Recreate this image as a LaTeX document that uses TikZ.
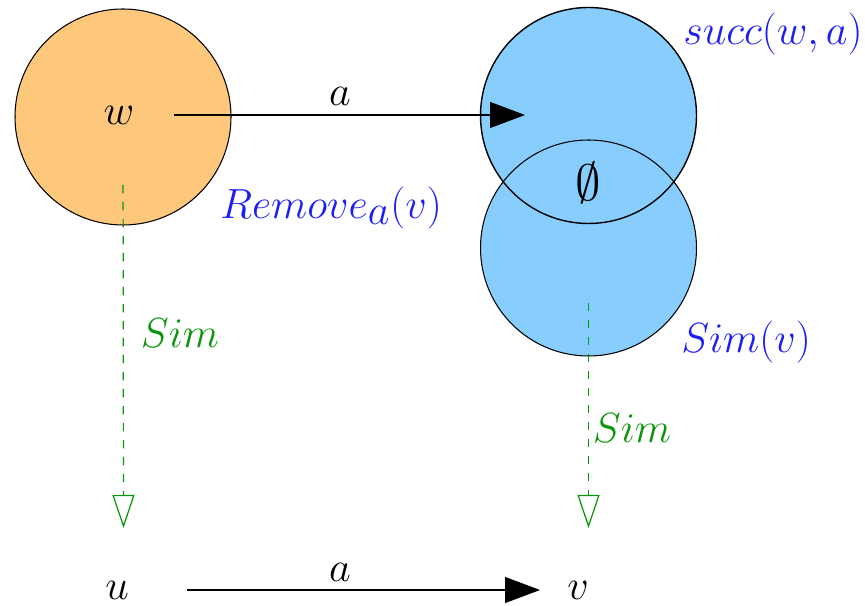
\RequirePackage{fix-cm}
\documentclass[tikz,border=0pt]{standalone}
\usepackage{xcolor}
\usepackage{tikz}
\usepackage{amsmath}
\usetikzlibrary{arrows.meta}
\definecolor{wfill}{RGB}{254,200,124}
\definecolor{setfill}{RGB}{135,206,255}
\definecolor{setblue}{RGB}{30,30,240}
\definecolor{simgreen}{RGB}{10,150,10}

\begin{document}
\begin{tikzpicture}[
    font=\fontsize{24}{28}\selectfont,
    setdisc/.style={circle,minimum size=4.32cm,inner sep=0pt},
    state/.style={inner sep=1pt},
    trans/.style={line width=0.6pt,-{Triangle[length=0.7cm,width=0.52cm]}},
    simline/.style={simgreen,line width=0.7pt,dash pattern=on 0.17cm off 0.17cm,
      -{Triangle[open,length=0.66cm,width=0.44cm]}},
    setlbl/.style={text=setblue},
    simlbl/.style={text=simgreen}]
  % scale: 50px = 1cm, y = (605-px)/50
  \useasboundingbox (0,0) rectangle (17.3,12.1);
  % state w (orange disc)
  \node[setdisc,fill=wfill,draw,line width=0.6pt] (W) at (2.46,9.76) {};
  \node[state] (w) at (2.38,9.8) {$w$};
  % succ(w,a) and Sim(v): fill both first, then the outlines
  \node[setdisc,fill=setfill] (S) at (11.77,9.79) {};
  \node[setdisc,fill=setfill] (R) at (11.77,7.14) {};
  \draw[line width=0.8pt] (S.center) circle[radius=2.16cm];
  \draw[line width=0.6pt] (R.center) circle[radius=2.16cm];
  \node[font=\fontsize{29}{32}\selectfont] (empty) at (11.76,8.44) {$\emptyset$};
  % set labels
  \node[setlbl] (succlbl) at (15.46,11.42) {$succ(w,a)$};
  \node[setlbl] (remlbl) at (6.62,7.94) {$Remove_{\textstyle a}(v)$};
  \node[setlbl] (simvlbl) at (14.92,5.27) {$Sim(v)$};
  % states u and v
  \node[state] (u) at (2.34,0.3) {$u$};
  \node[state] (v) at (11.56,0.3) {$v$};
  \coordinate (uTop) at (2.47,1.54);
  \coordinate (vTop) at (11.77,1.54);
  % transitions on a
  \draw[trans,shorten <=1.1cm,shorten >=1.27cm] (w.center) -- (w.center -| S.center);
  \node (atop) at (6.8,10.18) {$a$};
  \draw[trans,shorten <=1.4cm,shorten >=0.76cm] (u.center) -- (v.center);
  \node (abot) at (6.8,0.65) {$a$};
  % simulation (dashed, open tips)
  \draw[simline,shorten <=1.36cm] (W.center) -- (uTop);
  \node[simlbl] (simleft) at (3.6,5.44) {$Sim$};
  \draw[simline,shorten <=1.1cm] (R.center) -- (vTop);
  \node[simlbl] (simright) at (12.64,3.54) {$Sim$};
\end{tikzpicture}
\end{document}
